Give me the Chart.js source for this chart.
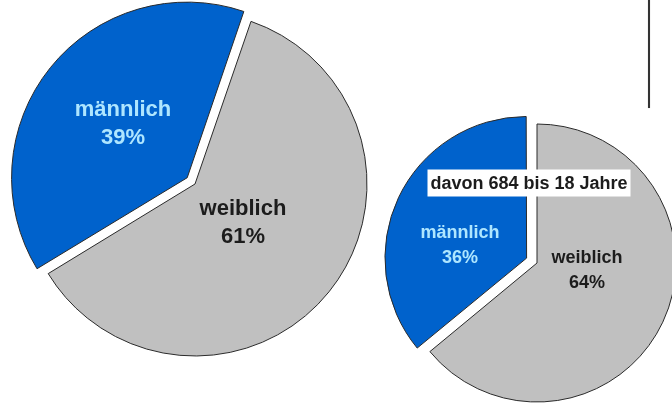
<!DOCTYPE html>
<html><head><meta charset="utf-8">
<script src="https://cdn.jsdelivr.net/npm/chart.js@4/dist/chart.umd.min.js"></script>
<style>
html,body{margin:0;padding:0;background:#fff;width:672px;height:405px;overflow:hidden;}
.box{position:absolute;left:0;top:0;width:672px;height:405px;}
#rule{position:absolute;left:648px;top:0;width:2px;height:108px;background:#333;box-shadow:0 0 1px #999;}
</style></head>
<body>
<div id="rule"></div>
<div class="box"><canvas id="c1"></canvas></div>
<div class="box"><canvas id="c2"></canvas></div>
<script>
const categories = ['weiblich', 'männlich'];
const totalShares = [61, 39];
const youthShares = [64, 36];
const youthNote = 'davon 684 bis 18 Jahre';

const sliceColors = ['#c0c0c0', '#0062cc'];
const textColors = ['#1c1c1c', '#aee6ff'];

const labelPlugin = {
  id: 'sliceLabels',
  afterDatasetsDraw(chart, args, opts) {
    const ctx = chart.ctx;
    const meta = chart.getDatasetMeta(0);
    const vals = chart.data.datasets[0].data;
    ctx.save();
    ctx.textAlign = 'center';
    ctx.textBaseline = 'middle';
    ctx.font = 'bold ' + opts.size + 'px "Liberation Sans", Arial, sans-serif';
    meta.data.forEach((arc, i) => {
      const o = opts.offsets[i];
      const x = arc.x + o[0], y = arc.y + o[1];
      ctx.fillStyle = textColors[i];
      ctx.fillText(chart.data.labels[i], x, y - opts.lineGap / 2);
      ctx.fillText(vals[i] + '%', x, y + opts.lineGap / 2);
    });
    if (opts.note) {
      const arc = meta.data[0];
      const n = opts.note;
      const cx = arc.x + n.dx, cy = arc.y + n.dy;
      ctx.fillStyle = '#ffffff';
      ctx.fillRect(cx - n.w / 2, cy - n.h / 2, n.w, n.h);
      ctx.fillStyle = '#1c1c1c';
      ctx.font = 'bold ' + n.size + 'px "Liberation Sans", Arial, sans-serif';
      ctx.fillText(n.text, cx, cy + 1);
    }
    ctx.restore();
  }
};

function makePie(id, values, rotation, radius, explode, padding, labelOpts) {
  return new Chart(document.getElementById(id), {
    type: 'pie',
    data: {
      labels: categories,
      datasets: [{
        data: values,
        backgroundColor: sliceColors,
        borderColor: '#2a2a2a',
        borderWidth: 1,
        offset: [0, explode],
        clip: false
      }]
    },
    options: {
      responsive: true,
      maintainAspectRatio: false,
      animation: false,
      rotation: rotation,
      radius: radius,
      layout: { padding: padding },
      plugins: {
        legend: { display: false },
        tooltip: { enabled: false },
        sliceLabels: labelOpts
      }
    },
    plugins: [labelPlugin]
  });
}

makePie('c1', totalShares, 19, 172, 40,
  { left: 0, right: 282, top: 0, bottom: 37 },
  { size: 22, lineGap: 28, offsets: [[48, 39], [-72, -60]] });

makePie('c2', youthShares, 0, 139, 46,
  { left: 402, right: 0, top: 121, bottom: 0 },
  { size: 18, lineGap: 25, offsets: [[50, 8], [-77, -17]],
    note: { text: youthNote, dx: -8, dy: -80, w: 203, h: 27, size: 18 } });
</script>
</body></html>
